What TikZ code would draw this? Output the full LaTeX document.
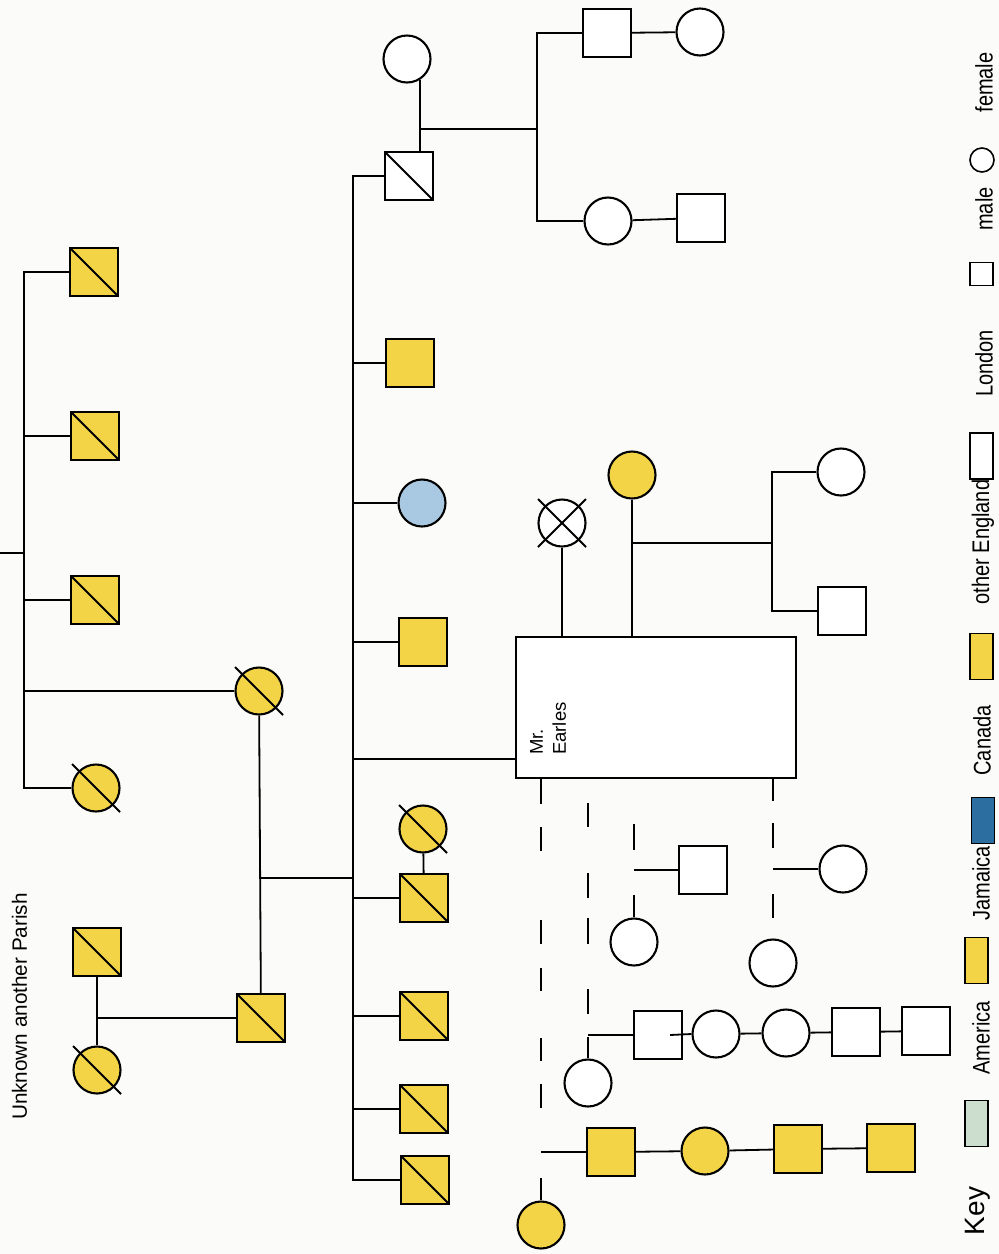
\documentclass[tikz,border=0pt]{standalone}
\usepackage{fontspec}
\setmainfont{Liberation Sans}
\usepackage{xcolor}
\usepackage{graphicx}
\usetikzlibrary{positioning,calc}
\definecolor{pedyellow}{HTML}{F3D447}
\definecolor{pedblue}{HTML}{A9C8E1}
\definecolor{keyblue}{HTML}{2B6E9F}
\definecolor{keygreen}{HTML}{CCDFCF}
\definecolor{paper}{HTML}{FBFBF9}

\begin{document}
\begin{tikzpicture}[
  x=1pt,
  y=-1pt,
  male/.style={rectangle, draw=black, line width=2.1pt, fill=white, minimum size=48pt, inner sep=0pt},
  female/.style={circle, draw=black, line width=2.1pt, fill=white, minimum size=47pt, inner sep=0pt},
  yel/.style={fill=pedyellow},
  link/.style={line width=1.8pt},
  slash/.style={line width=2.1pt},
  keytext/.style={rotate=90, inner sep=0pt, font=\fontsize{20}{24}\selectfont},
  swatch/.style={rectangle, draw=black, line width=1.7pt, minimum width=23pt, minimum height=46pt, inner sep=0pt}
]
\fill[paper] (0,0) rectangle (999,1254);
\useasboundingbox (0,0) rectangle (999,1254);

% oldest siblings
\node[male,yel] (gA) at (94,272) {};
\node[male,yel] (gB) at (95,436) {};
\node[male,yel] (gC) at (95,600) {};
\node[female,yel] (gD) at (259,691) {};
\node[female,yel] (gE) at (96,788) {};
\coordinate (gsib) at (24,553);
\coordinate (gout) at (0,553);
\draw[link] (gout) -- (gsib);
\foreach \n in {gA,gB,gC,gD,gE} \draw[link] (\n.west) -| (gsib);
\node[rotate=90, inner sep=0pt, font=\fontsize{20.7}{24}\selectfont] (parish) at (19.5,1006.5) {Unknown another Parish};

% husband and his parents
\node[male,yel] (uA) at (97,952) {};
\node[female,yel] (uB) at (97,1070) {};
\node[male,yel] (hB) at (261,1018) {};
\draw[link] (uA) -- (uB);
\draw[link] (uA |- hB.west) -- (hB.west);
\draw[link] (gD) -- (hB);
\coordinate (kids) at (353,878);
\draw[link] (gD |- kids) -- (kids);

% their children
\node[male] (chA) at (409,176) {};
\node[male,yel] (chB) at (410,363) {};
\node[female,fill=pedblue] (chC) at (422,503) {};
\node[male,yel] (chD) at (423,642) {};
\node[draw=black, line width=2.1pt, fill=white, minimum width=280pt, minimum height=141pt, inner sep=0pt] (earles) at (656,707.5) {};
\node[rotate=90, anchor=north west, align=left, inner sep=0pt, font=\fontsize{18.5}{23}\selectfont] (earlesname) at (530,755) {Mr.\\Earles};
\node[female,yel] (chF) at (423,829) {};
\node[male,yel] (chE) at (424,898) {};
\node[male,yel] (chG) at (424,1016) {};
\node[male,yel] (chH) at (424,1109) {};
\node[male,yel] (chI) at (425,1180) {};
\foreach \n in {chA,chB,chC,chD,chE,chG,chH,chI} \draw[link] (\n.west) -| (kids);
\coordinate (earlesin) at ($(earles.south west)+(0,-20)$);
\draw[link] (earlesin) -| (kids);
\draw[link] (chF) -- (chE);

% first son's family
\node[female] (wA) at (407,59) {};
\draw[link] (wA.-59) -- (wA.-59 |- chA.north);
\coordinate (dkids) at (537,129);
\draw[link] (wA.-59 |- dkids) -- (dkids);
\node[male] (dA) at (607,33) {};
\node[female] (dAw) at (700,32) {};
\node[female] (dB) at (608,221) {};
\node[male] (dBh) at (701,218) {};
\draw[link] (dA) -- (dAw);
\draw[link] (dB) -- (dBh);
\draw[link] (dA.west) -| (dkids);
\draw[link] (dB.west) -| (dkids);

% Mr. Earles' wives
\node[female] (eX) at (562,523) {};
\node[female,yel] (eY) at (632,475) {};
\draw[link] (eX) -- (eX |- earles.north);
\draw[link] (eY) -- (eY |- earles.north);
\coordinate (ekids) at (772,543);
\draw[link] (eY |- ekids) -- (ekids);
\node[female] (eA) at (841,472) {};
\node[male] (eB) at (842,611) {};
\draw[link] (eA.west) -| (ekids);
\draw[link] (eB.west) -| (ekids);

% lines below Mr. Earles
\node[male,yel] (amA) at (611,1152) {};
\node[female,yel] (amB) at (705,1151) {};
\node[male,yel] (amC) at (798,1149) {};
\node[male,yel] (amD) at (891,1148) {};
\node[female,yel] (amE) at (541,1225) {};
\draw[link] (amA) -- (amB);
\draw[link] (amB) -- (amC);
\draw[link] (amC) -- (amD);
\draw[link, dash pattern=on 25pt off 23pt on 24pt off 69pt on 24pt off 24pt on 23pt off 47pt on 23pt off 23pt on 24pt off 70pt on 30pt] (earles.south -| amE.north) -- (amE.north);
\draw[link] (amE.north |- amA.west) -- (amA.west);

\node[male] (bmA) at (658,1035) {};
\node[female] (bmB) at (716,1034) {};
\node[female] (bmC) at (786,1033) {};
\node[male] (bmD) at (856,1032) {};
\node[male] (bmE) at (926,1031) {};
\node[female] (bmF) at (588,1083) {};
\draw[link] ($(bmA.east)+(-13,0)$) -- (bmB.west);
\draw[link] (bmB) -- (bmC);
\draw[link] (bmC) -- (bmD);
\draw[link] (bmD) -- (bmE);
\draw[link, dash pattern=on 0pt off 24pt on 24pt off 46pt on 25pt off 20pt on 26pt off 45pt on 25pt off 23pt on 30pt] (earles.south -| bmF.north) -- (bmF.north);
\draw[link] (bmF.north |- bmA.west) -- (bmA.west);

\node[male] (cmA) at (703,870) {};
\node[female] (cmB) at (634,942) {};
\draw[link, dash pattern=on 0pt off 45pt on 26pt off 45pt on 30pt] (earles.south -| cmB.north) -- (cmB.north);
\draw[link] (cmB.north |- cmA.west) -- (cmA.west);

\node[female] (dmA) at (843,869) {};
\node[female] (dmB) at (773,963) {};
\draw[link, dash pattern=on 22pt off 22pt on 25pt off 46pt on 24pt off 40pt] (earles.south -| dmB.north) -- (dmB.north);
\draw[link] (dmB.north |- dmA.west) -- (dmA.west);

% deceased
\foreach \n in {gA,gB,gC,gD,gE,uA,uB,hB,chA,chF,chE,chG,chH,chI} \draw[slash] (\n.center) ++(-24,-24) -- ++(48,48);
\draw[slash] (eX.center) ++(-24,-24) -- ++(48,48);
\draw[slash] (eX.center) ++(24,-24) -- ++(-48,48);

% key
\node[keytext] (kFemale) at (984,82.5) {\scalebox{1}[1.2]{female}};
\node[female, minimum size=24pt, line width=1.6pt] (kCircle) at (982,160) {};
\node[keytext] (kMale) at (984,209) {\scalebox{1}[1.2]{male}};
\node[male, minimum size=23pt, line width=1.6pt] (kSquare) at (981.5,274) {};
\node[keytext] (kLondon) at (984,363.5) {\scalebox{1}[1.2]{London}};
\node[swatch, fill=white] (kWhite) at (981.5,456) {};
\node[keytext] (kEngland) at (983,542) {\scalebox{1}[1.2]{other England}};
\node[swatch, fill=pedyellow] (kYelA) at (981.5,656.5) {};
\node[keytext] (kCanada) at (982,740.5) {\scalebox{1}[1.2]{Canada}};
\node[swatch, fill=keyblue] (kBlue) at (983,820.5) {};
\node[keytext] (kJamaica) at (981,883.5) {\scalebox{1}[1.2]{Jamaica}};
\node[swatch, fill=pedyellow] (kYelB) at (976.5,960.5) {};
\node[keytext] (kAmerica) at (981,1038) {\scalebox{1}[1.2]{America}};
\node[swatch, fill=keygreen] (kGreen) at (976.5,1123.5) {};
\node[rotate=90, inner sep=0pt, font=\fontsize{28}{32}\selectfont] (kKey) at (978,1211) {Key};
\end{tikzpicture}
\end{document}
